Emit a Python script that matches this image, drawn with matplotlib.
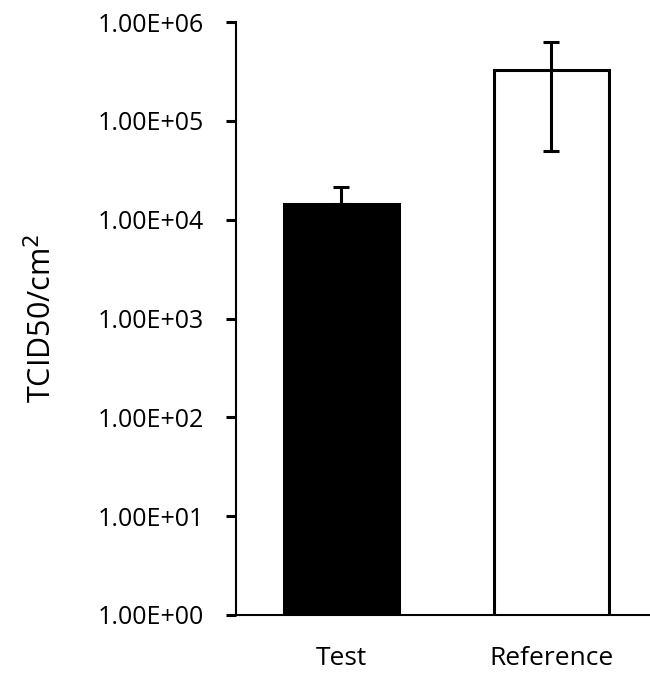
import matplotlib
matplotlib.use("Agg")
import matplotlib.pyplot as plt
from matplotlib.ticker import FixedLocator, FuncFormatter, NullLocator

categories = ["Test", "Reference"]
values = [1.45e4, 3.3e5]
err_top = [2.15e4, 6.3e5]
err_bottom = [1.45e4, 5.0e4]
bar_colors = ["black", "white"]
yticks = [1e0, 1e1, 1e2, 1e3, 1e4, 1e5, 1e6]

plt.rcParams['font.family'] = ['Open Sans', 'DejaVu Sans']

fig = plt.figure(figsize=(6.5, 6.74), dpi=100)
W, H = 650, 674
ax = fig.add_axes([236 / W, 1 - 615 / H, (650 - 236) / W, (615 - 22) / H])

x = list(range(len(categories)))
ax.bar(x, values, width=0.55, color=bar_colors, edgecolor="black", linewidth=2.2, zorder=2)

lower = [v - b for v, b in zip(values, err_bottom)]
upper = [t - v for v, t in zip(values, err_top)]
ax.errorbar(x, values, yerr=[lower, upper], fmt="none", ecolor="black",
            elinewidth=2.2, capsize=6, capthick=2.2, zorder=3)

ax.set_yscale("log")
ax.set_ylim(1e0, 1e6)
ax.set_xlim(-0.502, 1.469)
ax.yaxis.set_major_locator(FixedLocator(yticks))
ax.yaxis.set_minor_locator(NullLocator())
ax.yaxis.set_major_formatter(FuncFormatter(lambda v, p: f"{v:.2E}"))
ax.set_xticks(x)
ax.set_xticklabels(categories)

for s in ["top", "right"]:
    ax.spines[s].set_visible(False)
for s in ["left", "bottom"]:
    ax.spines[s].set_linewidth(1.5)
    ax.spines[s].set_color("black")

ax.tick_params(axis="y", direction="out", length=7, width=2.2, labelsize=18, pad=16)
ax.tick_params(axis="x", length=0, labelsize=19, pad=22)

ax.set_ylabel("TCID50/cm$^2$", fontsize=22, labelpad=28)

fig.savefig("out.png", dpi=100)
